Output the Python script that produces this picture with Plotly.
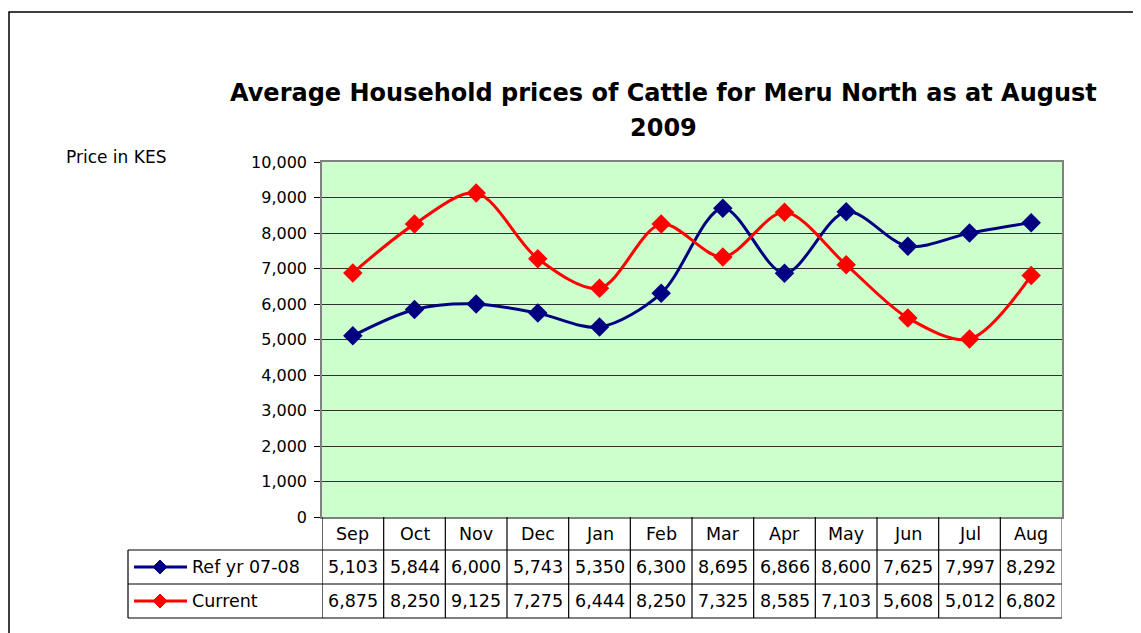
import plotly.graph_objects as go

months = ["Sep", "Oct", "Nov", "Dec", "Jan", "Feb", "Mar", "Apr", "May", "Jun", "Jul", "Aug"]
ref_name = "Ref yr 07-08"
ref_values = [5103, 5844, 6000, 5743, 5350, 6300, 8695, 6866, 8600, 7625, 7997, 8292]
cur_name = "Current"
cur_values = [6875, 8250, 9125, 7275, 6444, 8250, 7325, 8585, 7103, 5608, 5012, 6802]
y_ticks = list(range(0, 10001, 1000))
title_lines = ["Average Household prices of Cattle for Meru North as at August", "2009"]
y_label = "Price in KES"

# the page places the figure 8px in from the top-left corner
OFF = 8
W, H = 1141 - OFF, 633 - OFF
L, R, T, B = 322 - OFF, 1062 - OFF, 162 - OFF, 517 - OFF
pw, ph = R - L, B - T

def px(xp):
    return (xp - OFF - L) / pw

def py(yp):
    return (B - (yp - OFF)) / ph

NAVY = "#000080"
RED = "#FF0000"

fig = go.Figure()
for name, vals, col in [(ref_name, ref_values, NAVY), (cur_name, cur_values, RED)]:
    fig.add_trace(go.Scatter(
        x=list(range(len(months))), y=vals, name=name, mode="lines+markers",
        line=dict(color=col, width=3, shape="spline", smoothing=0.9),
        marker=dict(symbol="diamond", size=15, color=col),
        showlegend=False, hoverinfo="x+y",
    ))

shapes = []
annotations = []
# outer chart border
shapes.append(dict(type="rect", xref="paper", yref="paper", x0=px(9), x1=px(1170), y0=py(660), y1=py(12),
                   line=dict(color="black", width=1.5), layer="below"))

# table geometry (page pixels)
row_y = [517, 550, 584, 618]
tab_left = 128
line_col = "#000000"
for yy in row_y[1:]:
    shapes.append(dict(type="line", xref="paper", yref="paper", x0=px(tab_left), x1=px(1062),
                       y0=py(yy), y1=py(yy), line=dict(color=line_col, width=1.2)))
for k in range(len(months) + 1):
    shapes.append(dict(type="line", xref="x", yref="paper", x0=k - 0.5, x1=k - 0.5,
                       y0=0, y1=py(row_y[-1]),
                       line=dict(color=line_col if k < len(months) else "#606060", width=1.2)))
shapes.append(dict(type="line", xref="paper", yref="paper", x0=px(tab_left), x1=px(tab_left),
                   y0=py(row_y[1]), y1=py(row_y[-1]), line=dict(color=line_col, width=1.2)))

tfont = dict(family="DejaVu Sans, Arial, sans-serif", size=17.5, color="black")
for k, m in enumerate(months):
    annotations.append(dict(x=k, y=py((row_y[0] + row_y[1]) / 2), xref="x", yref="paper", text=m,
                            showarrow=False, font=tfont, xanchor="center", yanchor="middle"))
for r, (name, vals, col) in enumerate([(ref_name, ref_values, NAVY), (cur_name, cur_values, RED)]):
    yc = (row_y[r + 1] + row_y[r + 2]) / 2
    for k, v in enumerate(vals):
        annotations.append(dict(x=k, y=py(yc), xref="x", yref="paper", text=f"{v:,}",
                                showarrow=False, font=tfont, xanchor="center", yanchor="middle"))
    annotations.append(dict(x=px(190), y=py(yc), xref="paper", yref="paper", text=name,
                            showarrow=False, font=tfont, xanchor="left", yanchor="middle"))
    shapes.append(dict(type="line", xref="paper", yref="paper", x0=px(134), x1=px(187), y0=py(yc), y1=py(yc),
                       line=dict(color=col, width=3)))
    cx, cy, d = 160, yc, 7
    path = (f"M {px(cx - d)} {py(cy)} L {px(cx)} {py(cy - d)} "
            f"L {px(cx + d)} {py(cy)} L {px(cx)} {py(cy + d)} Z")
    shapes.append(dict(type="path", xref="paper", yref="paper", path=path, fillcolor=col,
                       line=dict(color=col, width=1)))

annotations.append(dict(x=px(64), y=py(157), xref="paper", yref="paper", text=y_label, showarrow=False,
                        font=dict(family="DejaVu Sans, Arial, sans-serif", size=17, color="black"),
                        xanchor="left", yanchor="middle"))

# title (two lines, Excel-style spacing)
title_font = dict(family="Comic Sans MS, DejaVu Sans, sans-serif", size=24, color="black", weight="bold")
for line, yc in zip(title_lines, [93, 128]):
    annotations.append(dict(x=px(663), y=py(yc), xref="paper", yref="paper", text=line, showarrow=False,
                            font=title_font, xanchor="center", yanchor="middle"))

fig.update_layout(
    width=W, height=H,
    margin=dict(l=L, r=W - R, t=T, b=H - B, pad=0),
    paper_bgcolor="white", plot_bgcolor="#CCFFCC",
    xaxis=dict(range=[-0.5, len(months) - 0.5], showticklabels=False, ticks="", showgrid=False,
               zeroline=False, showline=True, linecolor="#808080", linewidth=1.5, mirror=True, fixedrange=True),
    yaxis=dict(range=[0, 10000], tickvals=y_ticks, ticktext=[f"{v:,}" for v in y_ticks],
               tickfont=dict(family="DejaVu Sans, Arial, sans-serif", size=16, color="black"),
               ticks="outside", ticklen=6, tickcolor="black", ticklabelstandoff=4,
               showgrid=True, gridcolor="#303030", gridwidth=1,
               zeroline=False, showline=True, linecolor="#808080", linewidth=1.5, mirror=True, fixedrange=True),
    shapes=shapes, annotations=annotations,
)

fig.write_html("out.html")
